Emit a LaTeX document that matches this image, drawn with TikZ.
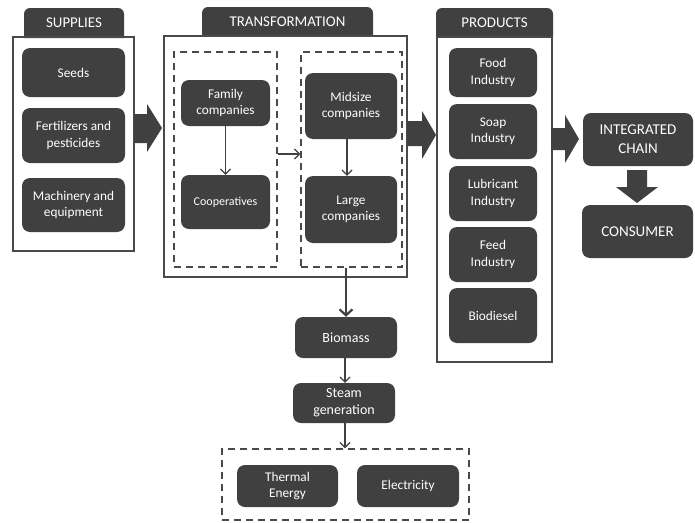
\documentclass[tikz,border=0pt]{standalone}
\usepackage{fontspec}
\setmainfont{Carlito}
\usetikzlibrary{arrows.meta}
\definecolor{dk}{HTML}{404040}
\definecolor{ln}{HTML}{4A4A4A}
\tikzset{
  dbox/.style={fill=dk, rounded corners=8pt, text=white, align=center, inner sep=0pt,
    font=\fontsize{13.3}{16.5}\selectfont},
  obox/.style={draw=ln, line width=1.4pt, inner sep=0pt},
  dsh/.style={draw=ln, line width=1.4pt, dash pattern=on 7pt off 5pt, inner sep=0pt},
  ttl/.style={text=white, font=\fontsize{14.9}{18}\selectfont, inner sep=0pt},
  thin/.style={draw=dk, line width=1.2pt, -{Straight Barb[length=5pt,width=10pt,line width=1.2pt]}},
  thick/.style={draw=dk, line width=2.2pt, -{Straight Barb[length=6pt,width=13pt,line width=2.2pt]}},
  big/.style={fill=dk}
}
\begin{document}
\begin{tikzpicture}[x=1pt,y=-1pt]
\useasboundingbox (0,0) rectangle (695,522);
% SUPPLIES
\fill[dk] (24,38) [rounded corners=6pt] -- (24,8) -- (124,8) [sharp corners] -- (124,38) -- cycle;
\node[ttl] (suptab) at (74,23) {SUPPLIES};
\node[obox, minimum width=121pt, minimum height=214pt] (supbox) at (73.5,144) {};
\node[dbox, minimum width=103pt, minimum height=49pt] (seeds) at (73.5,72.5) {Seeds};
\node[dbox, minimum width=103pt, minimum height=55pt] (fert) at (73.5,135.5) {Fertilizers and\\pesticides};
\node[dbox, minimum width=103pt, minimum height=54pt] (mach) at (73.5,205) {Machinery and\\equipment};
% big arrow 1
\fill[big] (134,114) -- (147,114) -- (147,104) -- (162,128) -- (147,152) -- (147,143) -- (134,143) -- cycle;
% TRANSFORMATION
\fill[dk] (202,36) [rounded corners=6pt] -- (202,7) -- (373,7) [sharp corners] -- (373,36) -- cycle;
\node[ttl] (trtab) at (287.5,21.5) {TRANSFORMATION};
\node[obox, minimum width=243pt, minimum height=241pt] (trbox) at (285.5,156.5) {};
\node[dsh, minimum width=103pt, minimum height=215pt] (left) at (225.5,159.5) {};
\node[dsh, minimum width=101pt, minimum height=215pt] (right) at (351.5,159.5) {};
\node[dbox, minimum width=89pt, minimum height=46pt] (family) at (225.5,103) {Family\\companies};
\node[dbox, minimum width=89pt, minimum height=54pt, font=\fontsize{12}{15}\selectfont] (coop) at (225.5,202) {Cooperatives};
\node[dbox, minimum width=92pt, minimum height=66pt] (mid) at (351,106) {Midsize\\companies};
\node[dbox, minimum width=92pt, minimum height=67pt] (large) at (351,209.5) {Large\\companies};
\draw[thin] (family) -- (coop);
\draw[thin] (mid.south -| 347,0) -- (large.north -| 347,0);
\coordinate (lr) at (left.east |- 0,154);
\coordinate (rl) at (right.west |- 0,154);
\draw[thin] (lr) -- (rl);
% big arrow 2
\fill[big] (407,121) -- (422,121) -- (422,111) -- (436,135) -- (422,159) -- (422,146) -- (407,146) -- cycle;
% PRODUCTS
\fill[dk] (436,37) [rounded corners=6pt] -- (436,8) -- (553,8) [sharp corners] -- (553,37) -- cycle;
\node[ttl] (prtab) at (494.5,22.5) {PRODUCTS};
\node[obox, minimum width=115pt, minimum height=325pt] (prbox) at (494.5,199.5) {};
\node[dbox, minimum width=88pt, minimum height=49pt] (food) at (493,72.5) {Food\\Industry};
\node[dbox, minimum width=88pt, minimum height=55pt] (soap) at (493,131.5) {Soap\\Industry};
\node[dbox, minimum width=88pt, minimum height=55pt] (lub) at (493,193.5) {Lubricant\\Industry};
\node[dbox, minimum width=88pt, minimum height=55pt] (feed) at (493,254.5) {Feed\\Industry};
\node[dbox, minimum width=88pt, minimum height=55pt] (bio) at (493,315.5) {Biodiesel};
% big arrow 3
\fill[big] (551,128) -- (565,128) -- (565,115) -- (579,139) -- (565,163) -- (565,150) -- (551,150) -- cycle;
\node[dbox, minimum width=110pt, minimum height=53pt, font=\fontsize{15}{19}\selectfont] (integ) at (638,139.5) {INTEGRATED\\CHAIN};
\fill[big] (627,170) -- (647,170) -- (647,187) -- (658,187) -- (637,203) -- (616,187) -- (627,187) -- cycle;
\node[dbox, minimum width=111pt, minimum height=53pt, font=\fontsize{15}{19}\selectfont] (cons) at (637.5,231.5) {CONSUMER};
% bottom chain
\node[dbox, minimum width=102pt, minimum height=41pt, font=\fontsize{14}{17}\selectfont] (biomass) at (346,337.5) {Biomass};
\node[dbox, minimum width=102pt, minimum height=40pt, font=\fontsize{14}{17}\selectfont] (steam) at (344,403) {Steam\\generation};
\node[dsh, minimum width=247pt, minimum height=71pt] (energy) at (345.5,484.5) {};
\node[dbox, minimum width=101pt, minimum height=42pt] (thermal) at (287.5,486) {Thermal\\Energy};
\node[dbox, minimum width=102pt, minimum height=42pt] (elec) at (408,486) {Electricity};
\draw[thick] (right.south -| 346,0) -- (biomass.north -| 346,0);
\draw[thin] (biomass.south -| 345,0) -- (steam.north -| 345,0);
\draw[thin] (steam.south -| 345,0) -- (energy.north -| 345,0);
\end{tikzpicture}
\end{document}
